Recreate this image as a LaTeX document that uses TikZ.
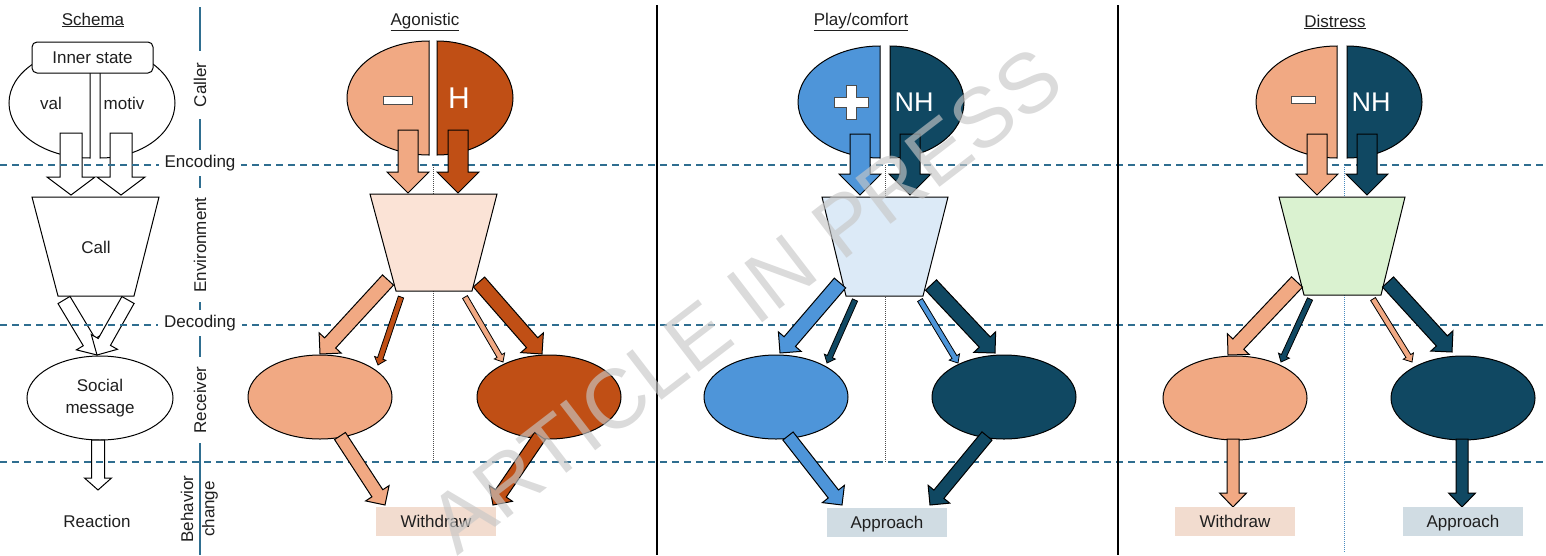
\documentclass[tikz,border=0pt]{standalone}
\usepackage{fontspec}
\setmainfont{Liberation Sans}
\usetikzlibrary{calc,shapes.geometric}
\definecolor{salmon}{HTML}{F1A983}
\definecolor{rust}{HTML}{C04F15}
\definecolor{peach}{HTML}{FBE3D6}
\definecolor{sky}{HTML}{4E95D9}
\definecolor{navy}{HTML}{104862}
\definecolor{paleblue}{HTML}{DCEAF7}
\definecolor{palegreen}{HTML}{DAF2D0}
\definecolor{wbox}{HTML}{F2DCCF}
\definecolor{abox}{HTML}{D0DCE3}
\definecolor{guideblue}{HTML}{2F6E90}
\definecolor{dotblue}{HTML}{4A8CC0}
\newcommand\barrow[6]{%
  \coordinate (hb) at ($(#3)!#6!(#2)$);
  \draw[#1] ($(#2)!#4!90:(#3)$) -- ($(hb)!#4!-90:(#2)$) -- ($(hb)!#5!-90:(#2)$) -- (#3)
    -- ($(hb)!#5!90:(#2)$) -- ($(hb)!#4!90:(#2)$) -- ($(#2)!#4!-90:(#3)$) -- cycle;
}
\begin{document}
\begin{tikzpicture}[x=1pt,y=-1pt,font=\fontsize{17}{20}\selectfont,text=black!88,
  shp/.style={draw=black,line width=1pt,line join=miter},
  warr/.style={shp,fill=white},
  dashguide/.style={draw=guideblue,line width=1.3pt,dash pattern=on 7pt off 5pt},
  vguide/.style={draw=guideblue,line width=1.6pt},
  gap/.style={fill=white,inner ysep=3pt},
  sep/.style={draw=black,line width=1.3pt},
  dots/.style={line width=1pt,densely dotted},
  recv/.style={shp,ellipse,minimum width=144pt,minimum height=84pt,inner sep=0pt},
  resp/.style={minimum width=120pt,minimum height=29pt,inner sep=0pt,text height=13pt,text depth=1pt},
  sign/.style={fill=white,draw=black!70,line width=0.7pt},
  big/.style={text=white,font=\fontsize{30}{30}\selectfont},
  bigb/.style={text=white,font=\fontsize{27}{27}\selectfont}]
\useasboundingbox (0,0) rectangle (1546,555);

% ---------------- Schema column
\draw[shp,fill=white] (90,158) arc[start angle=270,end angle=90,x radius=81pt,y radius=55pt] -- cycle;
\draw[shp,fill=white] (100,158) arc[start angle=-90,end angle=90,x radius=75pt,y radius=55pt] -- cycle;
\node[shp,fill=white,rounded corners=5pt,minimum width=121pt,minimum height=31pt] (inner) at (92.5,57.5) {Inner state};
\node (val) at (51,103) {val};
\node (motiv) at (124,103) {motiv};
\coordinate (s1a) at (71,133); \coordinate (s1b) at (71,195);
\coordinate (s2a) at (121,133); \coordinate (s2b) at (121,195);
\barrow{warr}{s1a}{s1b}{11pt}{24pt}{18pt}
\barrow{warr}{s2a}{s2b}{11pt}{24pt}{18pt}
\draw[shp,fill=white] (32,197) -- (159,197) -- (134,296) -- (58,296) -- cycle;
\node (call) at (96,247) {Call};
\coordinate (s3a) at (64,300); \coordinate (s3b) at (97,355);
\coordinate (s4a) at (128,300);
\barrow{warr}{s3a}{s3b}{7pt}{15pt}{15pt}
\barrow{warr}{s4a}{s3b}{7pt}{15pt}{15pt}
\node[shp,ellipse,fill=white,minimum width=146pt,minimum height=84pt,inner sep=0pt,align=center,font=\fontsize{17}{22}\selectfont] (soc) at (100,398) {Social\\message};
\coordinate (s5a) at (98,440); \coordinate (s5b) at (98,490);
\barrow{warr}{s5a}{s5b}{6.5pt}{13.5pt}{12pt}
\node (react) at (97,521) {Reaction};

% ---------------- guides
\draw[dashguide] (0,165) -- (1546,165);
\draw[dashguide] (0,325) -- (1546,325);
\draw[dashguide] (0,462) -- (1546,462);
\draw[vguide] (200,7) -- (200,555);
\draw[sep] (657,5) -- (657,555);
\draw[sep] (1118,5) -- (1118,555);
\draw[dots,draw=black!70] (433,165) -- (433,462);
\draw[dots,draw=black!70] (885,165) -- (885,462);
\draw[dots,draw=dotblue] (1344,165) -- (1344,552);

\node[gap,rotate=90,inner xsep=12pt] (caller) at (200,85) {Caller};
\node[gap,inner xsep=6pt,inner ysep=5pt] (enc) at (200,163) {Encoding};
\node[gap,rotate=90,inner xsep=9pt] (env) at (200,245) {Environment};
\node[gap,inner xsep=6pt,inner ysep=5pt] (dec) at (200,323) {Decoding};
\node[gap,rotate=90,inner xsep=9pt] (rec) at (200,400) {Receiver};
\node[rotate=90] (beh) at (187,509) {Behavior};
\node[rotate=90] (chg) at (210,509) {change};

% headers
\node (hs) at (93,20) {\underline{Schema}};
\node (ha) at (425,22) {\underline{Agonistic}};
\node (hp) at (861,22) {\underline{Play/comfort}};
\node (hd) at (1335,22) {\underline{Distress}};

% ---------------- Agonistic
\draw[shp,fill=salmon] (429,155) arc[start angle=270,end angle=90,x radius=82pt,y radius=57pt] -- cycle;
\draw[shp,fill=rust] (437,155) arc[start angle=-90,end angle=90,x radius=76pt,y radius=57pt] -- cycle;
\draw[sign] (383,96) rectangle (412,104);
\node[big] (aH) at (459,98) {H};
\coordinate (a1a) at (408,130); \coordinate (a1b) at (408,193);
\coordinate (a2a) at (458,130); \coordinate (a2b) at (458,193);
\barrow{shp,fill=salmon}{a1a}{a1b}{10pt}{21pt}{21pt}
\barrow{shp,fill=rust}{a2a}{a2b}{10pt}{21pt}{21pt}
\draw[shp,fill=peach] (370,194) -- (497,194) -- (472,291) -- (396,291) -- cycle;
\node[recv,fill=salmon] (aR1) at (320,397) {};
\node[recv,fill=rust] (aR2) at (549,397) {};
\coordinate (a3a) at (388,280); \coordinate (a3b) at (320,354);
\coordinate (a4a) at (401,297); \coordinate (a4b) at (378,365);
\coordinate (a5a) at (465,297); \coordinate (a5b) at (503,362);
\coordinate (a6a) at (479,282); \coordinate (a6b) at (542,354);
\barrow{shp,fill=salmon}{a3a}{a3b}{7.5pt}{15pt}{15pt}
\barrow{shp,line width=0.8pt,fill=rust}{a4a}{a4b}{2.8pt}{6pt}{7pt}
\barrow{shp,line width=0.8pt,fill=salmon}{a5a}{a5b}{2.8pt}{6pt}{7pt}
\barrow{shp,fill=rust}{a6a}{a6b}{7.5pt}{15pt}{15pt}
\coordinate (a7a) at (340,436); \coordinate (a7b) at (385,505);
\coordinate (a8a) at (540,436); \coordinate (a8b) at (493,505);
\barrow{shp,fill=salmon}{a7a}{a7b}{6.5pt}{14pt}{14pt}
\barrow{shp,fill=rust}{a8a}{a8b}{6.5pt}{14pt}{14pt}
\node[resp,fill=wbox] (aW) at (436,521.5) {Withdraw};

% ---------------- Play/comfort
\draw[shp,fill=sky] (880,158) arc[start angle=270,end angle=90,x radius=82pt,y radius=56pt] -- cycle;
\draw[shp,fill=navy] (890,158) arc[start angle=-90,end angle=90,x radius=74pt,y radius=56pt] -- cycle;
\draw[sign] (846,85) -- (856,85) -- (856,97) -- (868,97) -- (868,107) -- (856,107) -- (856,119)
  -- (846,119) -- (846,107) -- (834,107) -- (834,97) -- (846,97) -- cycle;
\node[bigb] (pNH) at (914,102) {NH};
\coordinate (p1a) at (860,134); \coordinate (p1b) at (860,195);
\coordinate (p2a) at (910,134); \coordinate (p2b) at (910,195);
\barrow{shp,fill=sky}{p1a}{p1b}{10pt}{21pt}{21pt}
\barrow{shp,fill=navy}{p2a}{p2b}{10pt}{21pt}{21pt}
\draw[shp,fill=paleblue] (822,197) -- (948,197) -- (923,296) -- (846,296) -- cycle;
\node[recv,fill=sky] (pR1) at (776,397) {};
\node[recv,fill=navy] (pR2) at (1004,397) {};
\coordinate (p3a) at (840,283); \coordinate (p3b) at (780,353);
\coordinate (p4a) at (855,300); \coordinate (p4b) at (827,363);
\coordinate (p5a) at (920,300); \coordinate (p5b) at (958,363);
\coordinate (p6a) at (931,285); \coordinate (p6b) at (995,353);
\barrow{shp,fill=sky}{p3a}{p3b}{7.5pt}{15pt}{15pt}
\barrow{shp,line width=0.8pt,fill=navy}{p4a}{p4b}{2.8pt}{6pt}{7pt}
\barrow{shp,line width=0.8pt,fill=sky}{p5a}{p5b}{2.8pt}{6pt}{7pt}
\barrow{shp,fill=navy}{p6a}{p6b}{7.5pt}{15pt}{15pt}
\coordinate (p7a) at (788,436); \coordinate (p7b) at (842,505);
\coordinate (p8a) at (987,436); \coordinate (p8b) at (930,505);
\barrow{shp,fill=sky}{p7a}{p7b}{6.5pt}{14pt}{14pt}
\barrow{shp,fill=navy}{p8a}{p8b}{6.5pt}{14pt}{14pt}
\node[resp,fill=abox] (pA) at (887,522) {Approach};

% ---------------- Distress
\draw[shp,fill=salmon] (1337,158) arc[start angle=270,end angle=90,x radius=81pt,y radius=56pt] -- cycle;
\draw[shp,fill=navy] (1347,158) arc[start angle=-90,end angle=90,x radius=75pt,y radius=56pt] -- cycle;
\draw[sign] (1291,96) rectangle (1315,103);
\node[bigb] (dNH) at (1371,102) {NH};
\coordinate (d1a) at (1317,134); \coordinate (d1b) at (1317,195);
\coordinate (d2a) at (1367,134); \coordinate (d2b) at (1367,195);
\barrow{shp,fill=salmon}{d1a}{d1b}{10pt}{21pt}{21pt}
\barrow{shp,fill=navy}{d2a}{d2b}{10pt}{21pt}{21pt}
\draw[shp,fill=palegreen] (1279,197) -- (1405,197) -- (1381,295) -- (1304,295) -- cycle;
\node[recv,fill=salmon] (dR1) at (1235,398) {};
\node[recv,fill=navy] (dR2) at (1463,398) {};
\coordinate (d3a) at (1297,282); \coordinate (d3b) at (1228,355);
\coordinate (d4a) at (1310,299); \coordinate (d4b) at (1281,362);
\coordinate (d5a) at (1373,299); \coordinate (d5b) at (1412,362);
\coordinate (d6a) at (1388,282); \coordinate (d6b) at (1452,352);
\barrow{shp,fill=salmon}{d3a}{d3b}{7.5pt}{15pt}{15pt}
\barrow{shp,line width=0.8pt,fill=navy}{d4a}{d4b}{2.8pt}{6pt}{7pt}
\barrow{shp,line width=0.8pt,fill=salmon}{d5a}{d5b}{2.8pt}{6pt}{7pt}
\barrow{shp,fill=navy}{d6a}{d6b}{7.5pt}{15pt}{15pt}
\coordinate (d7a) at (1233,439); \coordinate (d7b) at (1233,507);
\coordinate (d8a) at (1462,439); \coordinate (d8b) at (1462,507);
\barrow{shp,fill=salmon}{d7a}{d7b}{6pt}{13.5pt}{14pt}
\barrow{shp,fill=navy}{d8a}{d8b}{6pt}{13.5pt}{14pt}
\node[resp,fill=wbox] (dW) at (1235,521.5) {Withdraw};
\node[resp,fill=abox] (dA) at (1463,521.5) {Approach};

% watermark
\node[rotate=37.5,text=black!22,text opacity=0.65,font=\fontsize{84}{84}\selectfont] (wm) at (745,300) {ARTICLE IN PRESS};
\end{tikzpicture}
\end{document}
